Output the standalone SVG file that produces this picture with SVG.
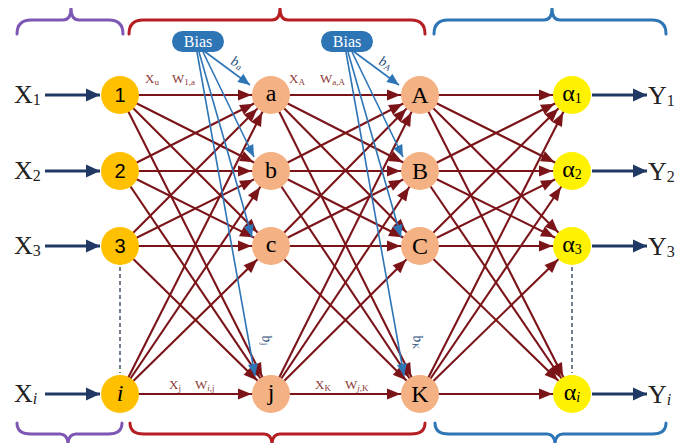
<svg xmlns="http://www.w3.org/2000/svg" width="683" height="443" viewBox="0 0 683 443">
<style>
.w{stroke:#7B1418;stroke-width:2.1;marker-end:url(#ar)}
.bl{stroke:#2E75B6;stroke-width:1.6;marker-end:url(#ab);fill:none}
.io{stroke:#1F3864;stroke-width:3;marker-end:url(#an)}
.dash{stroke:#44546A;stroke-width:1.5;stroke-dasharray:4 3}
.br{fill:none;stroke-width:3;stroke-linecap:round}
.n0{fill:#FFC000}.n1{fill:#F4B183}.n2{fill:#F4B183}.n3{fill:#FFF200}
.sans{font-family:"Liberation Sans",Arial,sans-serif;font-size:20px;text-anchor:middle;fill:#000}
.ser{font-family:"Liberation Serif","Times New Roman",serif;font-size:24px;text-anchor:middle;fill:#000}
.lab{font-family:"Liberation Serif","Times New Roman",serif;font-size:26px;fill:#222}
.el{font-family:"Liberation Serif","Times New Roman",serif;font-size:13px;fill:#8B3A3A}
.sb{font-size:9px}
.bt{font-family:"Liberation Serif","Times New Roman",serif;font-size:14px;font-style:italic;fill:#1F4E79}
.bias{fill:#2E75B6}
.biast{font-family:"Liberation Serif","Times New Roman",serif;font-size:16px;fill:#fff;text-anchor:middle}
</style>
<defs>
<marker id="ar" markerUnits="userSpaceOnUse" orient="auto" viewBox="-36 -7 38 14" markerWidth="38" markerHeight="14" refX="0" refY="0"><path d="M-19.5,0 L-33,-5.5 L-33,5.5 Z" fill="#7B1418"/></marker>
<marker id="ab" markerUnits="userSpaceOnUse" orient="auto" viewBox="-13 -6 14 12" markerWidth="14" markerHeight="12" refX="0" refY="0"><path d="M0,0 L-12,-5 L-12,5 Z" fill="#2E75B6"/></marker>
<marker id="an" markerUnits="userSpaceOnUse" orient="auto" viewBox="-15 -7 16 14" markerWidth="16" markerHeight="14" refX="0" refY="0"><path d="M0,0 L-14,-6.5 L-14,6.5 Z" fill="#1F3864"/></marker>
</defs>

<g id="braces">
<path class="br" stroke="#7E57B5" d="M17,34 Q17,20 31,20 L63,20 Q71,20 71,8 Q71,20 79,20 L109,20 Q123,20 123,34"/>
<path class="br" stroke="#B51F24" d="M129,34 Q129,20 143,20 L272,20 Q280,20 280,8 Q280,20 288,20 L411,20 Q425,20 425,34"/>
<path class="br" stroke="#2E75B6" d="M434,34 Q434,20 448,20 L544,20 Q552,20 552,8 Q552,20 560,20 L652,20 Q666,20 666,34"/>
<path class="br" stroke="#7E57B5" d="M17,423 Q17,434 31,434 L60,434 Q68,434 68,445 Q68,434 76,434 L108,434 Q122,434 122,423"/>
<path class="br" stroke="#B51F24" d="M130,423 Q130,434 144,434 L264,434 Q272,434 272,445 Q272,434 280,434 L411,434 Q425,434 425,423"/>
<path class="br" stroke="#2E75B6" d="M435,423 Q435,434 449,434 L547,434 Q555,434 555,445 Q555,434 563,434 L652,434 Q666,434 666,423"/>
</g>

<g id="connectors">
<line class="w" x1="120" y1="95" x2="271" y2="95"/>
<line class="w" x1="120" y1="95" x2="271" y2="171"/>
<line class="w" x1="120" y1="95" x2="271" y2="246"/>
<line class="w" x1="120" y1="95" x2="271" y2="394"/>
<line class="w" x1="120" y1="171" x2="271" y2="95"/>
<line class="w" x1="120" y1="171" x2="271" y2="171"/>
<line class="w" x1="120" y1="171" x2="271" y2="246"/>
<line class="w" x1="120" y1="171" x2="271" y2="394"/>
<line class="w" x1="120" y1="246" x2="271" y2="95"/>
<line class="w" x1="120" y1="246" x2="271" y2="171"/>
<line class="w" x1="120" y1="246" x2="271" y2="246"/>
<line class="w" x1="120" y1="246" x2="271" y2="394"/>
<line class="w" x1="120" y1="394" x2="271" y2="95"/>
<line class="w" x1="120" y1="394" x2="271" y2="171"/>
<line class="w" x1="120" y1="394" x2="271" y2="246"/>
<line class="w" x1="120" y1="394" x2="271" y2="394"/>
<line class="w" x1="271" y1="95" x2="420" y2="95"/>
<line class="w" x1="271" y1="95" x2="420" y2="171"/>
<line class="w" x1="271" y1="95" x2="420" y2="246"/>
<line class="w" x1="271" y1="95" x2="420" y2="394"/>
<line class="w" x1="271" y1="171" x2="420" y2="95"/>
<line class="w" x1="271" y1="171" x2="420" y2="171"/>
<line class="w" x1="271" y1="171" x2="420" y2="246"/>
<line class="w" x1="271" y1="171" x2="420" y2="394"/>
<line class="w" x1="271" y1="246" x2="420" y2="95"/>
<line class="w" x1="271" y1="246" x2="420" y2="171"/>
<line class="w" x1="271" y1="246" x2="420" y2="246"/>
<line class="w" x1="271" y1="246" x2="420" y2="394"/>
<line class="w" x1="271" y1="394" x2="420" y2="95"/>
<line class="w" x1="271" y1="394" x2="420" y2="171"/>
<line class="w" x1="271" y1="394" x2="420" y2="246"/>
<line class="w" x1="271" y1="394" x2="420" y2="394"/>
<line class="w" x1="420" y1="95" x2="572" y2="95"/>
<line class="w" x1="420" y1="95" x2="572" y2="171"/>
<line class="w" x1="420" y1="95" x2="572" y2="246"/>
<line class="w" x1="420" y1="95" x2="572" y2="394"/>
<line class="w" x1="420" y1="171" x2="572" y2="95"/>
<line class="w" x1="420" y1="171" x2="572" y2="171"/>
<line class="w" x1="420" y1="171" x2="572" y2="246"/>
<line class="w" x1="420" y1="171" x2="572" y2="394"/>
<line class="w" x1="420" y1="246" x2="572" y2="95"/>
<line class="w" x1="420" y1="246" x2="572" y2="171"/>
<line class="w" x1="420" y1="246" x2="572" y2="246"/>
<line class="w" x1="420" y1="246" x2="572" y2="394"/>
<line class="w" x1="420" y1="394" x2="572" y2="95"/>
<line class="w" x1="420" y1="394" x2="572" y2="171"/>
<line class="w" x1="420" y1="394" x2="572" y2="246"/>
<line class="w" x1="420" y1="394" x2="572" y2="394"/>
<line class="bl" x1="204" y1="51" x2="250" y2="85"/>
<line class="bl" x1="203" y1="52" x2="254" y2="157"/>
<line class="bl" x1="199" y1="52" x2="252" y2="237"/>
<line class="bl" x1="197" y1="52" x2="255" y2="376"/>
<line class="bl" x1="353" y1="51" x2="399" y2="85"/>
<line class="bl" x1="352" y1="52" x2="403" y2="157"/>
<line class="bl" x1="348" y1="52" x2="401" y2="237"/>
<line class="bl" x1="346" y1="52" x2="404" y2="376"/>
<line class="io" x1="45" y1="95" x2="100" y2="95"/>
<line class="io" x1="45" y1="171" x2="100" y2="171"/>
<line class="io" x1="45" y1="246" x2="100" y2="246"/>
<line class="io" x1="45" y1="394" x2="100" y2="394"/>
<line class="io" x1="592" y1="95" x2="647" y2="95"/>
<line class="io" x1="592" y1="171" x2="647" y2="171"/>
<line class="io" x1="592" y1="246" x2="647" y2="246"/>
<line class="io" x1="592" y1="394" x2="647" y2="394"/>
<line class="dash" x1="120" y1="267" x2="120" y2="373"/>
<line class="dash" x1="572" y1="267" x2="572" y2="373"/>
</g>

<g id="edge-labels">
<text class="el" x="145" y="83">X<tspan class="sb" dy="2">u</tspan></text>
<text class="el" x="172" y="83">W<tspan class="sb" dy="2">1,a</tspan></text>
<text class="el" x="289" y="83">X<tspan class="sb" dy="2">A</tspan></text>
<text class="el" x="320" y="83">W<tspan class="sb" dy="2">a,A</tspan></text>
<text class="el" x="169" y="389">X<tspan class="sb" dy="2">j</tspan></text>
<text class="el" x="195" y="389">W<tspan class="sb" dy="2"><tspan font-style="italic">i</tspan>,j</tspan></text>
<text class="el" x="315" y="389">X<tspan class="sb" dy="2">K</tspan></text>
<text class="el" x="345" y="389">W<tspan class="sb" dy="2"><tspan font-style="italic">j</tspan>,K</tspan></text>
<text class="bt" x="230" y="64" transform="rotate(25 230 64)">b<tspan font-size="9" dy="2">a</tspan></text>
<text class="bt" x="378" y="64" transform="rotate(25 378 64)">b<tspan font-size="9" dy="2">A</tspan></text>
<text class="bt" x="262" y="336" transform="rotate(80 262 336)">b<tspan font-size="9" dy="2">j</tspan></text>
<text class="bt" x="413" y="336" transform="rotate(80 413 336)">b<tspan font-size="9" dy="2">K</tspan></text>
</g>

<g id="bias1"><rect class="bias" x="172" y="31" width="52" height="21" rx="10.5"/><text class="biast" x="198" y="47">Bias</text></g>
<g id="bias2"><rect class="bias" x="321" y="31" width="52" height="21" rx="10.5"/><text class="biast" x="347" y="47">Bias</text></g>

<g id="in-labels">
<text class="lab" x="14" y="103">X<tspan font-size="16" dy="2">1</tspan></text>
<text class="lab" x="14" y="179">X<tspan font-size="16" dy="2">2</tspan></text>
<text class="lab" x="14" y="254">X<tspan font-size="16" dy="2">3</tspan></text>
<text class="lab" x="14" y="402">X<tspan font-size="16" dy="2" font-style="italic">i</tspan></text>
<text class="lab" x="648" y="104">Y<tspan font-size="16" dy="2">1</tspan></text>
<text class="lab" x="648" y="180">Y<tspan font-size="16" dy="2">2</tspan></text>
<text class="lab" x="648" y="255">Y<tspan font-size="16" dy="2">3</tspan></text>
<text class="lab" x="648" y="403">Y<tspan font-size="16" dy="2" font-style="italic">i</tspan></text>
</g>

<g id="n-1"><circle class="n0" cx="120" cy="95" r="19"/><text class="sans" x="120" y="102">1</text></g>
<g id="n-2"><circle class="n0" cx="120" cy="171" r="19"/><text class="sans" x="120" y="178">2</text></g>
<g id="n-3"><circle class="n0" cx="120" cy="246" r="19"/><text class="sans" x="120" y="253">3</text></g>
<g id="n-i"><circle class="n0" cx="120" cy="394" r="19"/><text class="ser" x="120" y="401" font-style="italic" font-size="22">i</text></g>

<g id="n-a"><circle class="n1" cx="271" cy="95" r="19"/><text class="ser" x="271" y="101">a</text></g>
<g id="n-b"><circle class="n1" cx="271" cy="171" r="19"/><text class="ser" x="271" y="178">b</text></g>
<g id="n-c"><circle class="n1" cx="271" cy="246" r="19"/><text class="ser" x="271" y="252">c</text></g>
<g id="n-j"><circle class="n1" cx="271" cy="394" r="19"/><text class="ser" x="271" y="400">j</text></g>

<g id="n-A"><circle class="n2" cx="420" cy="95" r="19"/><text class="ser" x="420" y="103">A</text></g>
<g id="n-B"><circle class="n2" cx="420" cy="171" r="19"/><text class="ser" x="420" y="179">B</text></g>
<g id="n-C"><circle class="n2" cx="420" cy="246" r="19"/><text class="ser" x="420" y="254">C</text></g>
<g id="n-K"><circle class="n2" cx="420" cy="394" r="19"/><text class="ser" x="420" y="402">K</text></g>

<g id="n-o1"><circle class="n3" cx="572" cy="95" r="19"/><text class="ser" x="572" y="101" font-size="22">α<tspan font-size="14" dy="2">1</tspan></text></g>
<g id="n-o2"><circle class="n3" cx="572" cy="171" r="19"/><text class="ser" x="572" y="177" font-size="22">α<tspan font-size="14" dy="2">2</tspan></text></g>
<g id="n-o3"><circle class="n3" cx="572" cy="246" r="19"/><text class="ser" x="572" y="252" font-size="22">α<tspan font-size="14" dy="2">3</tspan></text></g>
<g id="n-oi"><circle class="n3" cx="572" cy="394" r="19"/><text class="ser" x="572" y="400" font-size="22">α<tspan font-size="14" dy="2" font-style="italic">i</tspan></text></g>
</svg>
